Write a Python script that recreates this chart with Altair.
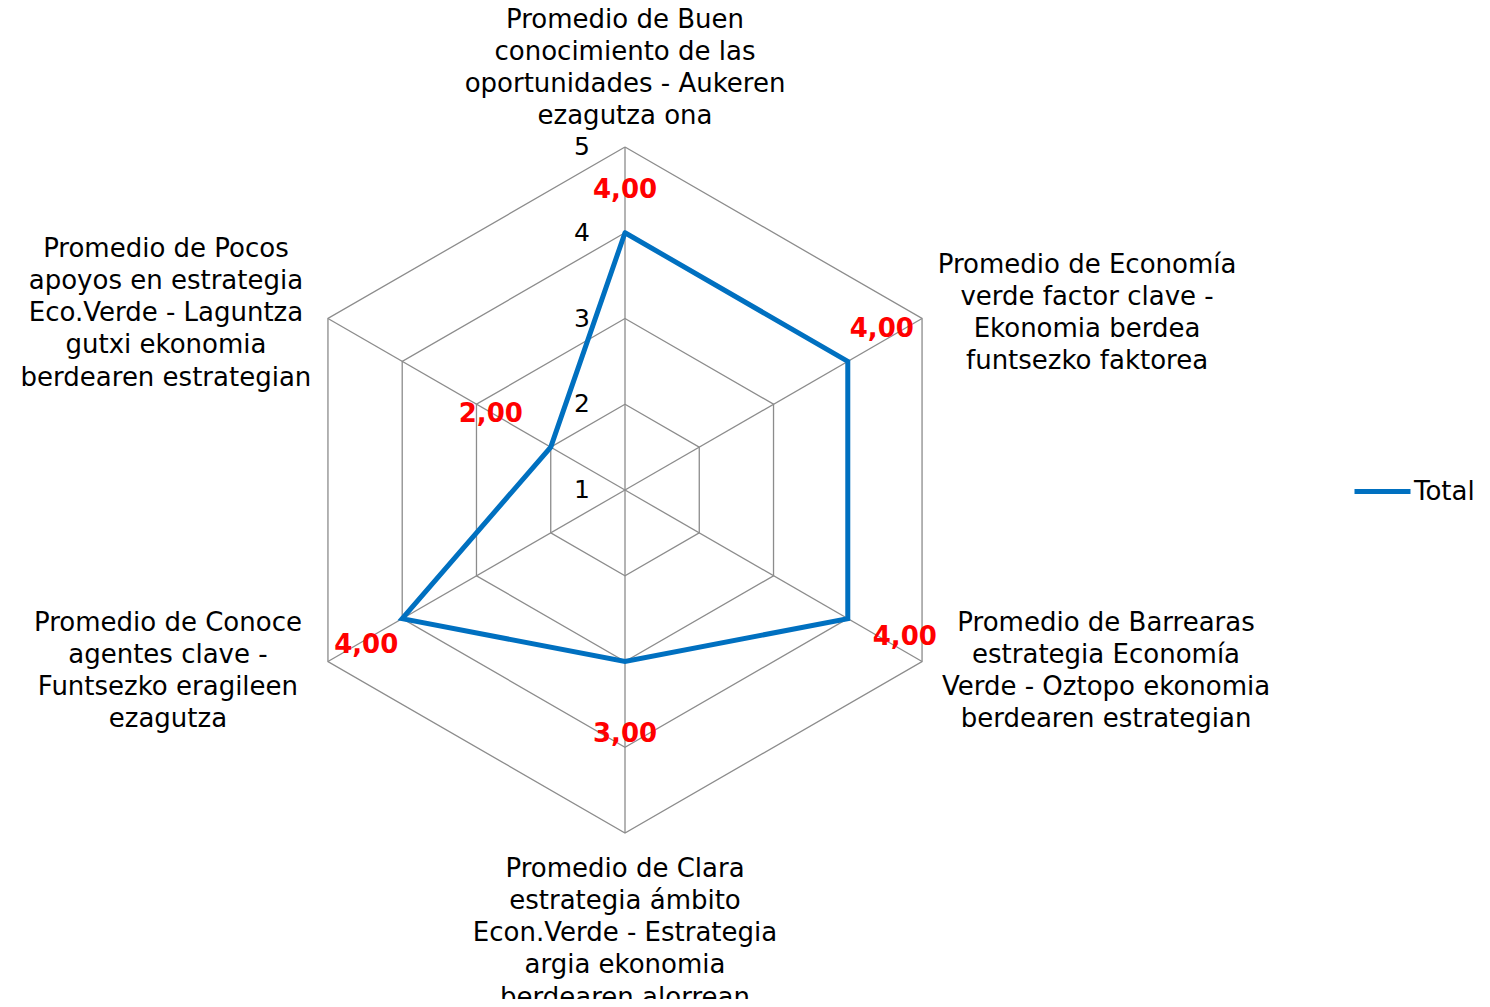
import math
import altair as alt
import pandas as pd

# ---------------- data ----------------
categories = [
    "Promedio de Buen\nconocimiento de las\noportunidades - Aukeren\nezagutza ona",
    "Promedio de Economía\nverde factor clave -\nEkonomia berdea\nfuntsezko faktorea",
    "Promedio de Barrearas\nestrategia  Economía\nVerde - Oztopo ekonomia\nberdearen estrategian",
    "Promedio de Clara\nestrategia ámbito\nEcon.Verde - Estrategia\nargia ekonomia\nberdearen alorrean",
    "Promedio de Conoce\nagentes clave  -\nFuntsezko eragileen\nezagutza",
    "Promedio de Pocos\napoyos en estrategia\nEco.Verde  - Laguntza\ngutxi ekonomia\nberdearen estrategian",
]
values = [4, 4, 4, 3, 4, 2]
series_name = "Total"
ticks = [1, 2, 3, 4, 5]
axis_min, axis_max = 1, 5

# ---------------- layout / style ----------------
FONT = "DejaVu Sans"
UNIT_PX = 85.75            # pixels per value unit
CENTER_PX = (625, 490)     # page position of the radar centre
MARGIN = 8
W, H = 1474, 991
GRID_COLOR = "#8c8c8c"
LINE_COLOR = "#0070C0"
LABEL_RED = "#FF0000"
# pixel offsets of category labels (first line) from the outer vertex
cat_offsets = [(0, -127.5), (165, -54), (184, -39), (0, 35.5), (-160, -39), (-162, -70)]
# pixel offsets of value labels from the data point
val_offsets = [(0, -43), (34, -32), (57, 18), (0, 72), (-36, 26), (-60, -33)]

n = len(categories)


def polar(v, i):
    r = v - axis_min
    a = math.radians(90 - 360.0 / n * i)
    return r * math.cos(a), r * math.sin(a)


x_dom = [(MARGIN - CENTER_PX[0]) / UNIT_PX, (MARGIN + W - CENTER_PX[0]) / UNIT_PX]
y_dom = [(CENTER_PX[1] - MARGIN - H) / UNIT_PX, (CENTER_PX[1] - MARGIN) / UNIT_PX]
xs = alt.Scale(domain=x_dom, nice=False, zero=False)
ys = alt.Scale(domain=y_dom, nice=False, zero=False)

# grid rings
grid_rows = []
for lv in ticks[1:]:
    for k in range(n + 1):
        x, y = polar(lv, k % n)
        grid_rows.append({"level": lv, "k": k, "x": x, "y": y})
grid_df = pd.DataFrame(grid_rows)

# spokes
spoke_rows = []
for i in range(n):
    x, y = polar(axis_max, i)
    spoke_rows.append({"x": 0.0, "y": 0.0, "x2": x, "y2": y, "i": i})
spoke_df = pd.DataFrame(spoke_rows)

# series
data_rows = []
for k in range(n + 1):
    i = k % n
    x, y = polar(values[i], i)
    data_rows.append({"k": k, "i": i, "x": x, "y": y, "series": series_name,
                      "label": f"{values[i]:.2f}".replace(".", ",")})
data_df = pd.DataFrame(data_rows)

# category label anchors (outer vertices)
cat_rows = []
for i, c in enumerate(categories):
    x, y = polar(axis_max, i)
    cat_rows.append({"i": i, "x": x, "y": y, "cat": c})
cat_df = pd.DataFrame(cat_rows)

tick_df = pd.DataFrame({"t": ticks, "x": [0.0] * len(ticks),
                        "y": [t - axis_min for t in ticks]})

enc_xy = dict(x=alt.X("x:Q", scale=xs, axis=None), y=alt.Y("y:Q", scale=ys, axis=None))

grid = alt.Chart(grid_df).mark_line(color=GRID_COLOR, strokeWidth=1.3).encode(
    detail="level:N", order="k:Q", **enc_xy)

spokes = alt.Chart(spoke_df).mark_rule(color=GRID_COLOR, strokeWidth=1.3).encode(
    x2="x2:Q", y2="y2:Q", **enc_xy)

tick_text = alt.Chart(tick_df).mark_text(
    font=FONT, fontSize=25, color="#000000", align="right", baseline="middle", dx=-35
).encode(text="t:Q", **enc_xy)

line = alt.Chart(data_df).mark_line(strokeWidth=5, strokeCap="round", strokeJoin="miter").encode(
    order="k:Q",
    color=alt.Color("series:N", scale=alt.Scale(domain=[series_name], range=[LINE_COLOR]),
                    legend=alt.Legend(title=None, orient="none", legendX=1344, legendY=453,
                                      symbolType="stroke", symbolSize=3136,
                                      symbolStrokeWidth=5, labelFontSize=26,
                                      labelFont=FONT, labelColor="#000000",
                                      labelOffset=1, padding=0)),
    **enc_xy)

layers = [grid, spokes, tick_text, line]

for i in range(n):
    dx, dy = val_offsets[i]
    layers.append(
        alt.Chart(data_df).transform_filter(f"datum.k == {i}").mark_text(
            font=FONT, fontSize=26, fontWeight="bold", color=LABEL_RED,
            align="center", baseline="middle", dx=dx, dy=dy
        ).encode(text="label:N", **enc_xy)
    )
    cdx, cdy = cat_offsets[i]
    layers.append(
        alt.Chart(cat_df).transform_filter(f"datum.i == {i}").mark_text(
            font=FONT, fontSize=26, color="#000000", align="center", baseline="middle",
            lineBreak="\n", lineHeight=32.3, dx=cdx, dy=cdy
        ).encode(text="cat:N", **enc_xy)
    )

chart = alt.layer(*layers).properties(
    width=W, height=H,
    autosize=alt.AutoSizeParams(type="none"),
    padding=0,
    background="white",
).configure_view(stroke=None)

chart.save("out.html", embed_options={"renderer": "svg", "actions": False})
